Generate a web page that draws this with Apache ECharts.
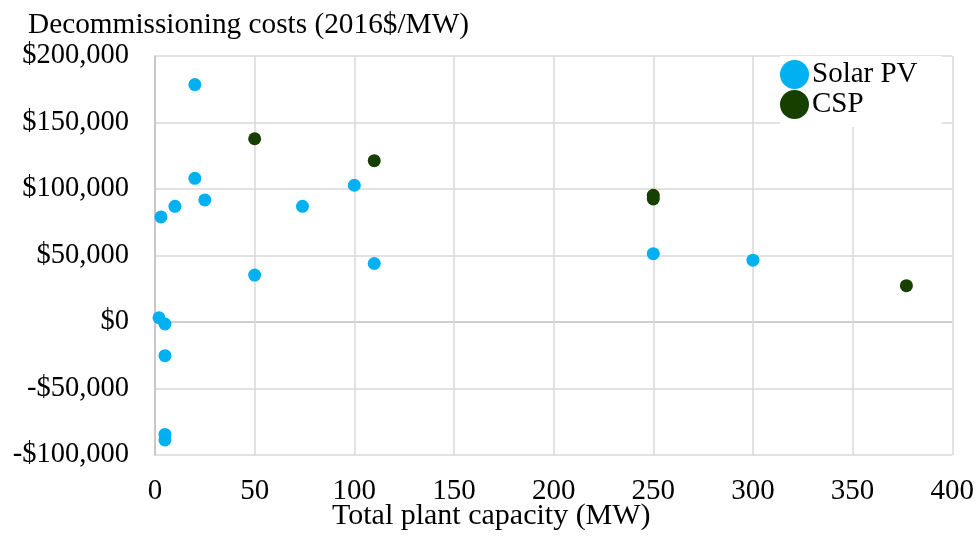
<!DOCTYPE html>
<html>
<head>
<meta charset="utf-8">
<script src="https://cdn.jsdelivr.net/npm/echarts@6/dist/echarts.min.js"></script>
<style>
  html, body { margin: 0; padding: 0; background: #ffffff; }
  #chart { width: 977px; height: 542px; }
</style>
</head>
<body>
<div id="chart"></div>
<script>
// Decommissioning cost per MW against total plant capacity
const seriesNames = ['Solar PV', 'CSP'];

// [capacity MW, cost 2016$/MW]
const solarPV = [
  [20, 178500], [20, 108000], [25, 91800], [10, 87000], [3, 79000],
  [74, 87000], [100, 102800], [50, 35300], [110, 44000], [2, 3200],
  [5, -1500], [5, -25300], [5, -84500], [5, -88700], [250, 51400],
  [300, 46500]
];
const csp = [
  [50, 137800], [110, 121300], [250, 95300], [250, 92500], [377, 27300]
];

const xTitle = 'Total plant capacity (MW)';
const yTitle = 'Decommissioning costs (2016$/MW)';

const FONT = '"Liberation Serif", "Times New Roman", serif';
const GRID = '#D9D9D9';
const AXIS = '#BFBFBF';
const PV_COLOR = '#00B0F0';
const CSP_COLOR = '#173F00';

function money(v) {
  const s = Math.abs(v).toLocaleString('en-US');
  return (v < 0 ? '-$' : '$') + s;
}

const chart = echarts.init(document.getElementById('chart'), null, { renderer: 'canvas' });

chart.setOption({
  animation: false,
  backgroundColor: '#ffffff',
  textStyle: { fontFamily: FONT, color: '#000' },
  grid: { left: 155, right: 23, top: 56, bottom: 87, containLabel: false },
  xAxis: {
    type: 'value',
    min: 0, max: 400, interval: 50,
    axisLine: { show: false, onZero: false },
    axisTick: { show: false },
    axisLabel: { fontFamily: FONT, fontSize: 29, color: '#000', margin: 22 },
    splitLine: { show: true, lineStyle: { color: GRID, width: 1.5 } }
  },
  yAxis: {
    type: 'value',
    min: -100000, max: 200000, interval: 50000,
    axisLine: { show: true, lineStyle: { color: AXIS, width: 1.5 } },
    axisTick: { show: false },
    axisLabel: {
      fontFamily: FONT, fontSize: 28.5, color: '#000', margin: 26,
      padding: [5, 0, 0, 0], formatter: money
    },
    splitLine: {
      show: true,
      // the zero line is drawn darker than the rest
      lineStyle: { color: [GRID, GRID, AXIS, GRID, GRID, GRID, GRID], width: 1.5 }
    }
  },
  legend: {
    data: seriesNames,
    orient: 'vertical',
    left: 780, top: 56,
    padding: [4, 24, 8, 0],
    itemGap: 1,
    itemWidth: 29, itemHeight: 29,
    icon: 'circle',
    backgroundColor: '#ffffff',
    itemStyle: { opacity: 1 },
    textStyle: { fontFamily: FONT, fontSize: 29, color: '#000', padding: [0, 0, 0, -2] }
  },
  graphic: [
    {
      type: 'text', left: 28, top: 11,
      style: { text: yTitle, font: '29.3px ' + FONT, fill: '#000' }
    },
    {
      type: 'text', left: 332, top: 501,
      style: { text: xTitle, font: '30px ' + FONT, fill: '#000' }
    }
  ],
  series: [
    {
      name: seriesNames[0], type: 'scatter', data: solarPV,
      symbol: 'circle', symbolSize: 13,
      itemStyle: { color: PV_COLOR, opacity: 1 }
    },
    {
      name: seriesNames[1], type: 'scatter', data: csp,
      symbol: 'circle', symbolSize: 13,
      itemStyle: { color: CSP_COLOR, opacity: 1 }
    }
  ]
});
</script>
</body>
</html>
